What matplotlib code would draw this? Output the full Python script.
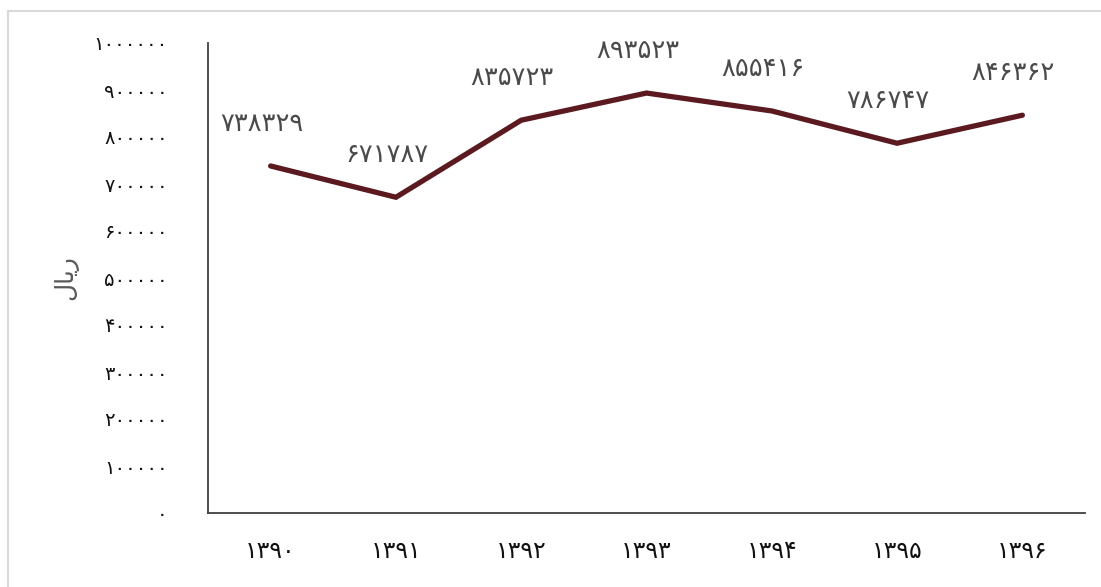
import matplotlib
matplotlib.use("Agg")
import matplotlib.pyplot as plt
from matplotlib.lines import Line2D

plt.rcParams['font.family'] = ['DejaVu Sans']

# Data
years = ["۱۳۹۰", "۱۳۹۱", "۱۳۹۲", "۱۳۹۳", "۱۳۹۴", "۱۳۹۵", "۱۳۹۶"]
values = [738329, 671787, 835723, 893523, 855416, 786747, 846362]
y_ticks = [0, 100000, 200000, 300000, 400000, 500000, 600000, 700000, 800000, 900000, 1000000]

PERSIAN_DIGITS = str.maketrans("0123456789", "۰۱۲۳۴۵۶۷۸۹")


def fa(n):
    return str(n).translate(PERSIAN_DIGITS)


# "ریال" written with presentation forms (shaped, visual order)
unit_label = "\uFEDD\uFE8E\uFEF3\uFEAD"

fig = plt.figure(figsize=(11.01, 5.87), dpi=100)
ax = fig.add_axes([208 / 1101, 1 - 513 / 587, 877 / 1101, 470 / 587])

x = list(range(len(years)))
ax.plot(x, values, color="#5b1a1f", linewidth=3.8, solid_capstyle="round",
        solid_joinstyle="miter")

for xi, v in zip(x, values):
    ax.annotate(fa(v), (xi, v), xytext=(-9, 42), textcoords="offset pixels",
                ha="center", va="center", fontsize=18.5, color="#4a4a4a")

ax.set_xlim(-0.5, len(years) - 0.5)
ax.set_ylim(0, 1000000)
ax.set_xticks(x)
ax.set_xticklabels(years, fontsize=17, color="#111111")
ax.set_yticks(y_ticks)
ax.set_yticklabels([fa(t) for t in y_ticks], fontsize=14, color="#111111")
ax.tick_params(axis="both", length=0)
ax.tick_params(axis="x", pad=19)
ax.tick_params(axis="y", pad=29)

for side in ("top", "right"):
    ax.spines[side].set_visible(False)
for side in ("left", "bottom"):
    ax.spines[side].set_color("#404040")
    ax.spines[side].set_linewidth(1.3)

ax.set_ylabel(unit_label, fontsize=18, color="#595959")
ax.yaxis.set_label_coords(-0.148, 0.5)

# Light frame around the chart area
fig.add_artist(Line2D([8 / 1101, 8 / 1101], [0, 1 - 10.5 / 587],
                      color="#d9d9d9", linewidth=1.5, transform=fig.transFigure))
fig.add_artist(Line2D([8 / 1101, 1], [1 - 10.5 / 587, 1 - 10.5 / 587],
                      color="#d9d9d9", linewidth=1.5, transform=fig.transFigure))

fig.savefig("out.png", dpi=100)
